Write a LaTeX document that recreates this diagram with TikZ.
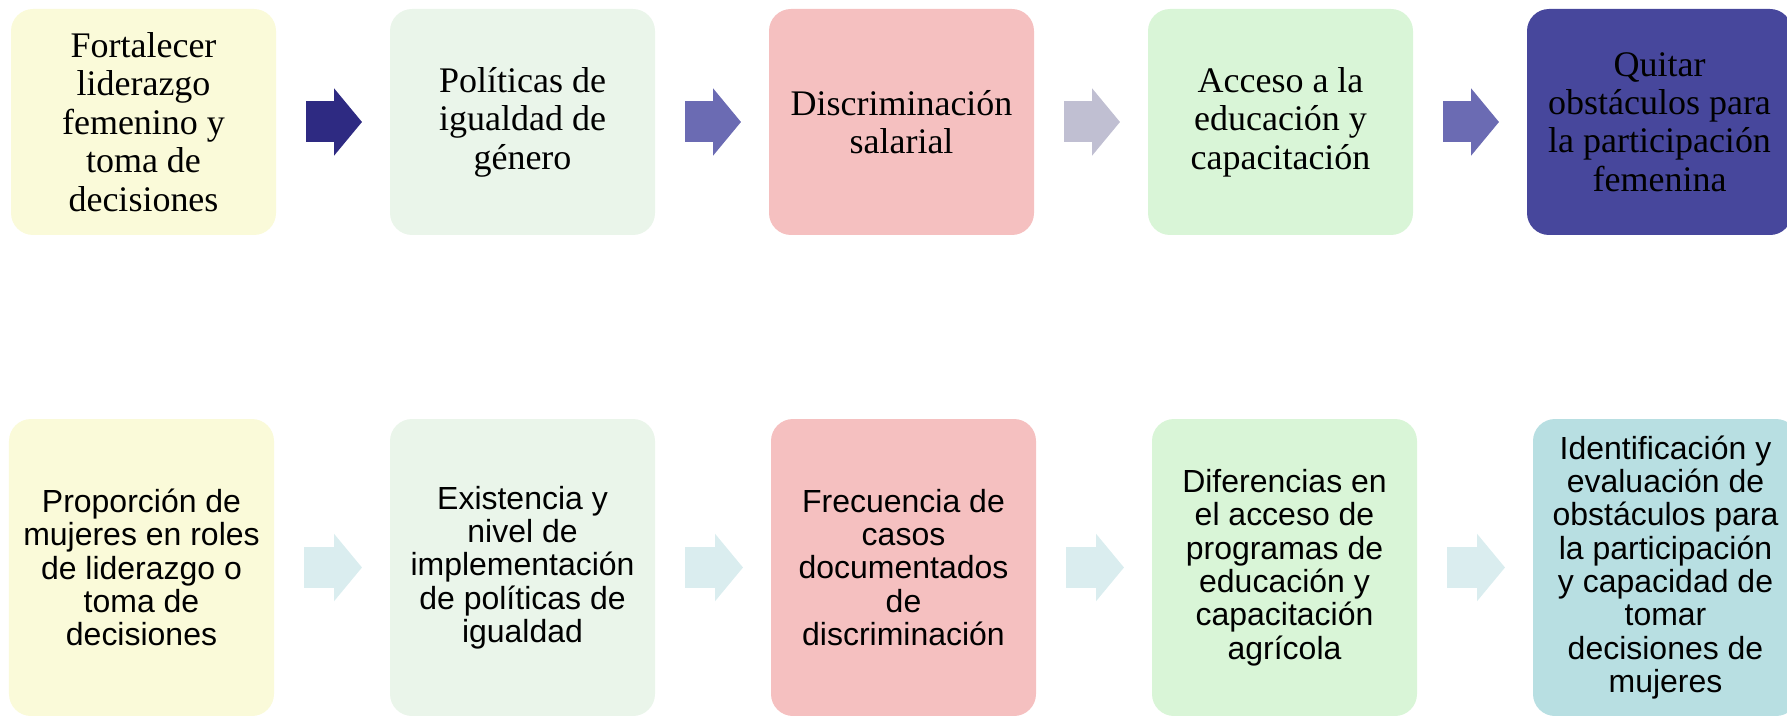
\documentclass[tikz,border=0pt]{standalone}
\usepackage{fontspec}
\setmainfont{Liberation Serif}
\setsansfont{Liberation Sans}
\usetikzlibrary{positioning,arrows.meta}
\definecolor{amarillo}{HTML}{FAFAD9}
\definecolor{verdepalido}{HTML}{EAF5EA}
\definecolor{rosa}{HTML}{F5C0C0}
\definecolor{verde}{HTML}{D9F5D7}
\definecolor{morado}{HTML}{47479C}
\definecolor{celeste}{HTML}{B8DFE2}
\definecolor{marino}{HTML}{2E2A82}
\definecolor{lila}{HTML}{6B6BB3}
\definecolor{gris}{HTML}{C0BFD2}
\definecolor{hielo}{HTML}{DAEDEF}
\begin{document}
\begin{tikzpicture}[node distance=1.14cm,
		caja/.style={rounded corners=0.22cm, align=center, inner sep=0pt, outer sep=0pt, minimum width=2.65cm},
		arriba/.style={caja, minimum height=2.26cm, font=\fontsize{10.24}{10.93}\selectfont},
		abajo/.style={caja, minimum height=2.97cm, font=\sffamily\fontsize{9.1}{9.48}\selectfont},
		flecha/.style={line width=0.41cm, -{Triangle[width=0.66cm,length=0.28cm]},
			shorten <=0.3cm, shorten >=0.28cm}]
\useasboundingbox (0,0) rectangle (17.87,-7.16);
% fila de arriba
\node[arriba, fill=amarillo] (t1) at (1.435,-1.22) {Fortalecer\\liderazgo\\femenino y\\toma de\\decisiones};
\node[arriba, fill=verdepalido, right=of t1] (t2) {Políticas de\\igualdad de\\género};
\node[arriba, fill=rosa, right=of t2] (t3) {Discriminación\\salarial};
\node[arriba, fill=verde, right=of t3] (t4) {Acceso a la\\educación y\\capacitación};
\node[arriba, fill=morado, right=of t4] (t5) {Quitar\\obstáculos para\\la participación\\femenina};
% fila de abajo
\node[abajo, fill=amarillo] (b1) at (1.415,-5.675) {Proporción de\\mujeres en roles\\de liderazgo o\\toma de\\decisiones};
\node[abajo, fill=verdepalido, right=1.16cm of b1] (b2) {Existencia y\\nivel de\\implementación\\de políticas de\\igualdad};
\node[abajo, fill=rosa, right=1.16cm of b2] (b3) {Frecuencia de\\casos\\documentados\\de\\discriminación};
\node[abajo, fill=verde, right=1.16cm of b3] (b4) {Diferencias en\\el acceso de\\programas de\\educación y\\capacitación\\agrícola};
\node[abajo, fill=celeste, right=1.16cm of b4] (b5) {Identificación y\\evaluación de\\obstáculos para\\la participación\\y capacidad de\\tomar\\decisiones de\\mujeres};
% flechas
\draw[flecha, marino] (t1.east) -- (t2.west);
\draw[flecha, lila] (t2.east) -- (t3.west);
\draw[flecha, gris] (t3.east) -- (t4.west);
\draw[flecha, lila] (t4.east) -- (t5.west);
\draw[flecha, hielo] (b1.east) -- (b2.west);
\draw[flecha, hielo] (b2.east) -- (b3.west);
\draw[flecha, hielo] (b3.east) -- (b4.west);
\draw[flecha, hielo] (b4.east) -- (b5.west);
\end{tikzpicture}
\end{document}
